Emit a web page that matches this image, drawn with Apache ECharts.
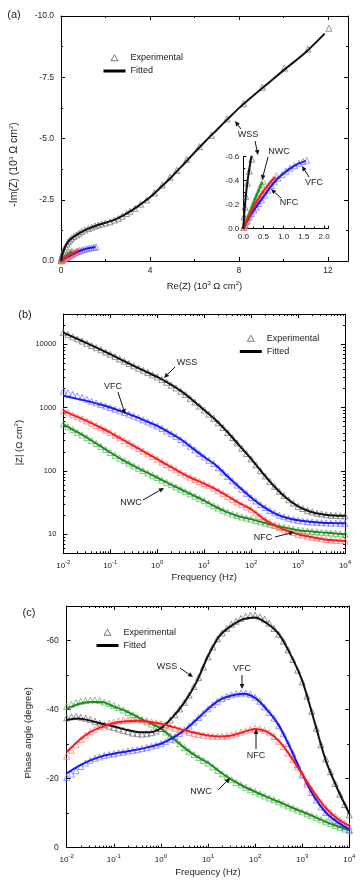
<!DOCTYPE html>
<html>
<head>
<meta charset="utf-8">
<script src="https://cdn.jsdelivr.net/npm/echarts@6.0.0/dist/echarts.min.js"></script>
<style>html,body{margin:0;padding:0;background:#fff}#c{width:361px;height:880px}</style>
</head>
<body>
<div id="c"></div>
<script>
// ---------------- DATA ----------------
// (a) Nyquist: Re(Z) and Im(Z) in 10^3 ohm cm2
const wssReExp = [12.04,11.1,10.04,9.05,8.21,7.46,6.76,6.22,5.65,5.2,4.9,4.55,4.2,3.85,3.58,3.33,3.1,2.95,2.75,2.58,2.4,2.2,2.0,1.83,1.68,1.53,1.38,1.23,1.08,0.93,0.8,0.7,0.58,0.48,0.4,0.33,0.27,0.21,0.15,0.1,0.06,0.04,0.02];
const wssImExp = [-9.5,-8.65,-7.87,-7.09,-6.42,-5.8,-5.13,-4.67,-4.15,-3.7,-3.42,-3.1,-2.78,-2.49,-2.32,-2.15,-2.03,-1.94,-1.83,-1.74,-1.67,-1.6,-1.55,-1.51,-1.47,-1.43,-1.38,-1.33,-1.27,-1.2,-1.13,-1.06,-1.0,-0.93,-0.86,-0.79,-0.69,-0.58,-0.48,-0.38,-0.27,-0.18,-0.1];
const wssReFit = [0,0.03,0.08,0.15,0.25,0.4,0.6,0.85,1.2,1.6,2.0,2.5,3.0,3.5,4.0,4.5,5.0,5.5,6.0,6.5,7.0,7.5,8.0,9.0,10.0,11.0,11.85];
const wssImFit = [0,-0.15,-0.33,-0.5,-0.68,-0.86,-1.01,-1.15,-1.31,-1.45,-1.56,-1.72,-1.96,-2.26,-2.6,-3.02,-3.46,-3.94,-4.43,-4.9,-5.35,-5.8,-6.24,-7.02,-7.78,-8.52,-9.28];
const vfcReExp = [0.02,0.05,0.1,0.15,0.2,0.26,0.32,0.38,0.45,0.53,0.61,0.69,0.77,0.86,0.96,1.06,1.16,1.27,1.38,1.48,1.57];
const vfcImExp = [-0.02,-0.04,-0.07,-0.1,-0.125,-0.155,-0.18,-0.21,-0.24,-0.28,-0.32,-0.36,-0.39,-0.42,-0.45,-0.48,-0.505,-0.525,-0.545,-0.56,-0.57];
const vfcReFit = [0,0.1,0.2,0.36,0.53,0.69,0.86,1.11,1.35,1.55];
const vfcImFit = [0,-0.065,-0.125,-0.2,-0.28,-0.355,-0.42,-0.49,-0.54,-0.565];
const nfcReExp = [0.01,0.04,0.08,0.12,0.16,0.2,0.24,0.29,0.34,0.4,0.46,0.53,0.6,0.67,0.74,0.82];
const nfcImExp = [-0.01,-0.03,-0.06,-0.09,-0.12,-0.15,-0.17,-0.2,-0.23,-0.26,-0.29,-0.325,-0.355,-0.385,-0.41,-0.44];
const nfcReFit = [0,0.12,0.24,0.36,0.53,0.69,0.8];
const nfcImFit = [0,-0.09,-0.17,-0.24,-0.325,-0.395,-0.43];
const nwcReExp = [0.01,0.03,0.07,0.11,0.16,0.2,0.24,0.28,0.32,0.37,0.41,0.45,0.49];
const nwcImExp = [-0.01,-0.03,-0.06,-0.095,-0.13,-0.165,-0.2,-0.235,-0.27,-0.305,-0.34,-0.37,-0.395];
const nwcReFit = [0,0.07,0.16,0.24,0.32,0.41,0.48];
const nwcImFit = [0,-0.06,-0.13,-0.2,-0.27,-0.34,-0.39];

// (b),(c) Bode: frequencies (Hz) of measured points and of fitted-curve nodes
const freqExp = [0.01,0.01259,0.01585,0.01995,0.02512,0.03162,0.03981,0.05012,0.0631,0.07943,0.1,0.1259,0.1585,0.1995,0.2512,0.3162,0.3981,0.5012,0.631,0.7943,1,1.259,1.585,1.995,2.512,3.162,3.981,5.012,6.31,7.943,10,12.59,15.85,19.95,25.12,31.62,39.81,50.12,63.1,79.43,100,125.9,158.5,199.5,251.2,316.2,398.1,501.2,631,794.3,1000,1259,1585,1995,2512,3162,3981,5012,6310,7943,10000];
const freqFit = [0.01,0.01778,0.03162,0.05623,0.1,0.1778,0.3162,0.5623,1,1.778,3.162,5.623,10,17.78,31.62,56.23,100,177.8,316.2,562.3,1000,1778,3162,5623,10000];

// (b) |Z| (ohm cm2)
const wssModExp = [15280,14140,13090,12120,11220,10360,9570,8840,8170,7530,6950,6380,5860,5390,4950,4560,4200,3870,3570,3300,3050,2770,2510,2260,2040,1810,1610,1400,1220,1055,912,787,679,574,485,404,336,277,228,188,155,125,101,83,68.2,57,47.6,40.8,35.0,31.0,27.5,25.5,23.8,22.6,21.5,20.9,20.3,20.0,19.8,19.6,19.5];
const wssModFit = [15280,12590,10380,8510,6950,5620,4550,3720,3050,2400,1830,1320,912,631,407,251,155,91.2,56.2,37.2,27.5,22.9,20.7,19.8,19.5];
const vfcModExp = [1820,1717,1620,1530,1445,1349,1260,1188,1120,1058,1000,942,887,834,785,734,687,639,594,552,513,468,427,387,350,312,278,245,215,189,166,147,131,112,95.9,81.6,69.5,59.6,51.1,44.1,38.0,33.4,29.4,26.4,23.7,21.8,20.0,18.9,17.9,17.2,16.6,16.2,15.8,15.6,15.4,15.25,15.1,15.05,15.0,14.95,14.9];
const vfcModFit = [1528,1396,1274,1135,1000,861,738,617,513,407,316,229,166,123,81.3,55,38,27.5,21.4,18.2,16.6,15.7,15.2,15.0,14.9];
const nfcModExp = [885,825,769,715,664,614,568,522,480,440,403,366,332,302,274,248,225,205,186,169,153,139,126,114,104,94.7,86.3,79.4,73.1,67.9,63.1,58.1,53.5,48.6,44.1,39.6,35.6,32.4,29.5,27.0,24.8,21.7,19.0,17.0,15.3,14.0,12.8,12.0,11.2,10.6,10.0,9.64,9.29,8.98,8.69,8.47,8.26,8.13,8.0,7.92,7.85];
const nfcModFit = [885,741,617,501,403,316,248,195,153,120,94.2,75.9,63.1,51.3,39.8,30.9,24.8,17.8,13.8,11.5,10.0,9.12,8.41,8.04,7.85];
const nwcModExp = [546,495,448,407,370,334,302,271,243,218,195,176,159,145,132,120,110,101,92.7,85.3,78.5,71.9,65.9,60.6,55.7,51.3,47.2,43.5,40.0,36.8,33.9,30.9,28.2,26.0,23.9,22.3,20.8,19.7,18.7,18.0,17.3,16.5,15.7,15.0,14.4,13.8,13.3,12.8,12.4,12.0,11.6,11.4,11.2,11.05,10.9,10.75,10.6,10.45,10.3,10.15,10.0];
const nwcModFit = [546,427,336,257,195,151,120,96.6,78.5,63.1,51.3,41.7,33.9,26.9,22.1,19.1,17.3,15.3,13.8,12.6,11.6,11.1,10.7,10.4,10.0];

// (c) phase angle (degree)
const wssPhExp = [-37.6,-37.9,-38.0,-37.8,-37.5,-37.1,-36.6,-36.1,-35.6,-35.2,-34.8,-34.4,-34.0,-33.6,-33.2,-33.0,-32.9,-33.0,-33.3,-33.8,-34.5,-35.6,-37.0,-38.5,-40.2,-42.1,-44.2,-46.7,-49.3,-52.3,-55.3,-58.1,-60.5,-62.2,-63.5,-64.7,-65.6,-66.4,-67.0,-67.3,-67.3,-66.9,-66.2,-65.0,-63.5,-61.8,-59.8,-57.3,-54.5,-51.4,-48.0,-43.9,-39.5,-34.6,-29.8,-25.7,-22.0,-18.6,-15.5,-12.5,-9.5];
const wssPhFit = [-37.0,-37.4,-36.8,-35.9,-35.1,-34.2,-33.5,-33.4,-34.6,-37.8,-42.1,-47.8,-55.5,-61.4,-64.3,-66.2,-66.7,-65.0,-61.9,-56.0,-48.4,-37.0,-25.3,-17.0,-9.9];
const vfcPhExp = [-20.3,-21.3,-22.3,-23.5,-24.5,-25.3,-25.9,-26.3,-26.7,-27.0,-27.2,-27.5,-27.7,-28.0,-28.2,-28.4,-28.7,-29.0,-29.4,-29.7,-30.1,-30.7,-31.4,-32.2,-33.1,-34.1,-35.2,-36.4,-37.7,-39.0,-40.2,-41.4,-42.4,-43.2,-43.8,-44.3,-44.6,-44.8,-44.8,-44.4,-43.6,-42.4,-40.8,-39.2,-37.5,-35.3,-33.0,-30.2,-27.3,-24.1,-21.0,-18.4,-16.0,-13.8,-11.8,-10.2,-8.9,-7.8,-6.9,-6.0,-5.2];
const vfcPhFit = [-21.5,-23.6,-25.3,-26.5,-27.2,-27.8,-28.4,-29.2,-30.1,-31.8,-34.0,-37.0,-40.2,-42.8,-44.1,-44.6,-43.4,-40.0,-35.5,-28.8,-21.3,-14.8,-10.2,-7.4,-5.3];
const nfcPhExp = [-26.5,-28.2,-29.8,-31.3,-32.6,-33.6,-34.4,-35.1,-35.6,-36.1,-36.4,-36.7,-36.9,-37.0,-37.1,-37.1,-37.0,-36.8,-36.5,-36.2,-35.9,-35.5,-35.0,-34.6,-34.2,-33.8,-33.4,-33.1,-32.8,-32.6,-32.4,-32.3,-32.2,-32.3,-32.4,-32.7,-33.0,-33.5,-33.9,-34.3,-34.6,-34.5,-34.0,-33.3,-32.2,-30.8,-29.2,-27.4,-25.5,-23.4,-21.3,-19.1,-17.0,-15.0,-13.2,-11.7,-10.3,-9.1,-8.0,-7.1,-6.2];
const nfcPhFit = [-27.7,-31.0,-33.5,-35.0,-36.1,-36.6,-36.8,-36.5,-35.9,-35.0,-34.0,-33.2,-32.5,-32.2,-32.5,-33.5,-34.4,-33.6,-31.0,-26.5,-21.3,-16.0,-11.5,-8.4,-6.3];
const nwcPhExp = [-40.9,-41.5,-42.0,-42.4,-42.6,-42.8,-42.8,-42.6,-42.2,-41.8,-41.2,-40.6,-39.9,-39.2,-38.5,-37.8,-37.1,-36.4,-35.8,-35.1,-34.5,-33.5,-32.4,-31.2,-30.1,-29.0,-27.9,-27.0,-26.1,-25.3,-24.5,-23.4,-22.4,-21.4,-20.5,-19.7,-18.9,-18.2,-17.5,-16.8,-16.2,-15.6,-15.0,-14.4,-13.9,-13.3,-12.7,-12.1,-11.5,-10.9,-10.4,-9.8,-9.3,-8.7,-8.1,-7.5,-7.0,-6.4,-5.9,-5.4,-5.0];
const nwcPhFit = [-40.2,-41.6,-42.2,-42.2,-40.9,-39.6,-37.9,-36.2,-34.5,-31.8,-28.9,-26.5,-24.6,-22.0,-19.7,-17.8,-16.2,-14.7,-13.3,-11.8,-10.4,-9.0,-7.5,-6.2,-5.1];

// ---------------- STYLE ----------------
const FONT = '"Liberation Sans", Arial, Helvetica, sans-serif';
const TXT = '#222';
const COL = {
  wss: {pt: '#6a6a6a', ln: '#111111'},
  vfc: {pt: '#7070ff', ln: '#1818ff'},
  nfc: {pt: '#ff7070', ln: '#ff1a1a'},
  nwc: {pt: '#55b055', ln: '#1e8e1e'}
};
const zip = (a, b) => a.map((v, i) => [v, b[i]]);

function expS(x, y, col, xi, yi) {
  return {type: 'scatter', name: 'Experimental', xAxisIndex: xi, yAxisIndex: yi, data: zip(x, y),
    symbol: 'triangle', symbolSize: 6, silent: true, z: 2,
    itemStyle: {color: 'rgba(255,255,255,0)', borderColor: col, borderWidth: 0.9}};
}
function fitS(x, y, col, xi, yi) {
  return {type: 'line', name: 'Fitted', xAxisIndex: xi, yAxisIndex: yi, data: zip(x, y),
    symbol: 'none', smooth: 0.3, silent: true, z: 3, lineStyle: {color: col, width: 2}};
}
function axis(extra) {
  return Object.assign({
    axisLine: {show: true, onZero: false, lineStyle: {color: '#000', width: 1}},
    axisTick: {show: true, inside: true, length: 4, lineStyle: {color: '#000', width: 1}},
    splitLine: {show: false}
  }, extra);
}
const mt = n => ({show: true, splitNumber: n, length: 2, lineStyle: {color: '#000', width: 1}});
const lab = o => Object.assign({fontSize: 8.5, fontFamily: FONT, color: TXT}, o);
const supRich = {sup: {fontSize: 6, fontFamily: FONT, color: TXT, padding: [0, 0, 6, 0]}};
const nameSt = (pad, size) => ({fontSize: size || 9.5, fontFamily: FONT, color: TXT, rich: supRich, padding: pad || 0});
const logLab = lab({fontSize: 8, margin: 6,
  formatter: v => '10{sup|' + Math.round(Math.log10(v)) + '}',
  rich: {sup: {fontSize: 6, fontFamily: FONT, color: TXT, padding: [0, 0, 7, 0]}}});
const isPow = v => Math.abs(Math.log10(v) - Math.round(Math.log10(v))) < 1e-6;

const xAxis = [
  axis({gridIndex: 0, type: 'value', min: 0, max: 12.9, interval: 4, minorTick: mt(2),
    axisLabel: lab({margin: 5, formatter: v => v > 12.5 ? '' : String(v)}),
    name: 'Re(Z) (10{sup|3} Ω cm{sup|2})', nameLocation: 'middle', nameGap: 19, nameTextStyle: nameSt()}),
  axis({gridIndex: 0, type: 'value', position: 'top', min: 0, max: 12.9, interval: 4, minorTick: mt(2), axisLabel: {show: false}}),
  axis({gridIndex: 1, type: 'value', min: 0, max: 2.1, interval: 0.5, minorTick: mt(2),
    axisTick: {show: true, inside: true, length: 3, lineStyle: {color: '#000'}},
    axisLabel: lab({fontSize: 8, margin: 4, formatter: v => v > 2.05 ? '' : v.toFixed(1)})}),
  axis({gridIndex: 2, type: 'log', min: 0.01, max: 10000, minorTick: mt(9), axisLabel: logLab,
    name: 'Frequency (Hz)', nameLocation: 'middle', nameGap: 19, nameTextStyle: nameSt()}),
  axis({gridIndex: 2, type: 'log', position: 'top', min: 0.01, max: 10000, minorTick: mt(9), axisLabel: {show: false}}),
  axis({gridIndex: 3, type: 'log', min: 0.01, max: 10000, minorTick: mt(9), axisLabel: logLab,
    name: 'Frequency (Hz)', nameLocation: 'middle', nameGap: 20, nameTextStyle: nameSt()}),
  axis({gridIndex: 3, type: 'log', position: 'top', min: 0.01, max: 10000, minorTick: mt(9), axisLabel: {show: false}})
];
const yAxis = [
  axis({gridIndex: 0, type: 'value', min: -10, max: 0, interval: 2.5, inverse: true, minorTick: mt(2),
    axisLabel: lab({margin: 7, formatter: v => v.toFixed(1)}),
    name: '-Im(Z) (10{sup|3} Ω cm{sup|2})', nameLocation: 'middle', nameGap: 41, nameTextStyle: nameSt([0, 52, 0, 0], 10.5)}),
  axis({gridIndex: 0, type: 'value', position: 'right', min: -10, max: 0, interval: 2.5, inverse: true, minorTick: mt(2), axisLabel: {show: false}}),
  axis({gridIndex: 1, type: 'value', min: -0.6, max: 0, interval: 0.2, inverse: true, minorTick: mt(2),
    axisTick: {show: true, inside: true, length: 3, lineStyle: {color: '#000'}},
    axisLabel: lab({fontSize: 8, margin: 4, formatter: v => v.toFixed(1)})}),
  axis({gridIndex: 2, type: 'log', min: 5, max: 30000, minorTick: mt(9),
    axisLabel: lab({fontSize: 7.5, margin: 7, formatter: v => isPow(v) ? String(Math.round(v)) : ''}),
    name: '|Z| (Ω cm{sup|2})', nameLocation: 'middle', nameGap: 33, nameTextStyle: nameSt([0, 18, 0, 0])}),
  axis({gridIndex: 2, type: 'log', position: 'right', min: 5, max: 30000, minorTick: mt(9), axisLabel: {show: false}}),
  axis({gridIndex: 3, type: 'value', min: -70, max: 0, splitNumber: 3, inverse: true, minorTick: mt(2),
    axisLabel: lab({margin: 8, formatter: v => v < -65 ? '' : String(v)}),
    name: 'Phase angle (degree)', nameLocation: 'middle', nameGap: 33, nameTextStyle: nameSt([0, 12, 0, 0])}),
  axis({gridIndex: 3, type: 'value', position: 'right', min: -70, max: 0, splitNumber: 3, inverse: true, minorTick: mt(2), axisLabel: {show: false}})
];

const series = [];
// (a) main + inset: grid 0 uses axes 0/0, inset uses 2/2
[[0, 0], [2, 2]].forEach(([xi, yi]) => {
  series.push(expS(vfcReExp, vfcImExp, COL.vfc.pt, xi, yi), fitS(vfcReFit, vfcImFit, COL.vfc.ln, xi, yi));
  series.push(expS(nwcReExp, nwcImExp, COL.nwc.pt, xi, yi), fitS(nwcReFit, nwcImFit, COL.nwc.ln, xi, yi));
  series.push(expS(nfcReExp, nfcImExp, COL.nfc.pt, xi, yi), fitS(nfcReFit, nfcImFit, COL.nfc.ln, xi, yi));
  series.push(expS(wssReExp, wssImExp, COL.wss.pt, xi, yi), fitS(wssReFit, wssImFit, COL.wss.ln, xi, yi));
});
// (b)
series.push(expS(freqExp, wssModExp, COL.wss.pt, 3, 3), fitS(freqFit, wssModFit, COL.wss.ln, 3, 3));
series.push(expS(freqExp, vfcModExp, COL.vfc.pt, 3, 3), fitS(freqFit, vfcModFit, COL.vfc.ln, 3, 3));
series.push(expS(freqExp, nwcModExp, COL.nwc.pt, 3, 3), fitS(freqFit, nwcModFit, COL.nwc.ln, 3, 3));
series.push(expS(freqExp, nfcModExp, COL.nfc.pt, 3, 3), fitS(freqFit, nfcModFit, COL.nfc.ln, 3, 3));
// (c)
series.push(expS(freqExp, nwcPhExp, COL.nwc.pt, 5, 5), fitS(freqFit, nwcPhFit, COL.nwc.ln, 5, 5));
series.push(expS(freqExp, wssPhExp, COL.wss.pt, 5, 5), fitS(freqFit, wssPhFit, COL.wss.ln, 5, 5));
series.push(expS(freqExp, vfcPhExp, COL.vfc.pt, 5, 5), fitS(freqFit, vfcPhFit, COL.vfc.ln, 5, 5));
series.push(expS(freqExp, nfcPhExp, COL.nfc.pt, 5, 5), fitS(freqFit, nfcPhFit, COL.nfc.ln, 5, 5));

// legend icons: triangle drawn in the middle of a full-width (22x7) path box
const TRI_ICON = 'path://M0 7L0 7M11 0.5L14.5 6.5L7.5 6.5Z M22 7L22 7';
const BAR_ICON = 'path://M0 0H22V3H0Z';
function legendAt(left, top) {
  return {left, top, orient: 'vertical', itemWidth: 22, itemHeight: 7, itemGap: 4, padding: 0,
    selectedMode: false, symbolKeepAspect: true,
    textStyle: {fontSize: 9, fontFamily: FONT, color: TXT},
    data: [
      {name: 'Experimental', icon: TRI_ICON, itemStyle: {color: 'rgba(255,255,255,0)', borderColor: '#555', borderWidth: 1}},
      {name: 'Fitted', icon: BAR_ICON, itemStyle: {color: '#000', borderWidth: 0}}
    ]};
}

// annotation helpers (layout only)
function tx(x, y, t, size) {
  return {type: 'text', x, y, z: 100, silent: true,
    style: {text: t, fontSize: size || 9, fontFamily: FONT, fill: TXT,
      align: 'center', verticalAlign: 'middle', textAlign: 'center', textVerticalAlign: 'middle'}};
}
function arrow(x1, y1, x2, y2) {
  const a = Math.atan2(y2 - y1, x2 - x1), L = 5, W = 2.3;
  const bx = x2 - L * Math.cos(a), by = y2 - L * Math.sin(a);
  const px = -Math.sin(a) * W, py = Math.cos(a) * W;
  return [
    {type: 'line', z: 100, silent: true, shape: {x1, y1, x2: bx, y2: by}, style: {stroke: '#111', lineWidth: 1}},
    {type: 'polygon', z: 100, silent: true, shape: {points: [[x2, y2], [bx + px, by + py], [bx - px, by - py]]}, style: {fill: '#111'}}
  ];
}
const graphic = [
  tx(14, 15, '(a)', 11), tx(25, 315, '(b)', 11), tx(29, 613, '(c)', 11),
  tx(248, 135, 'WSS'), tx(279, 152, 'NWC'), tx(314, 183, 'VFC'), tx(289, 203, 'NFC'),
  ...arrow(241, 129, 235, 121), ...arrow(255, 141, 258, 155), ...arrow(268, 157, 262, 180),
  ...arrow(309, 177, 302, 166), ...arrow(281, 198, 271, 189),
  tx(187, 363, 'WSS'), tx(113, 387, 'VFC'), tx(131, 503, 'NWC'), tx(263, 538, 'NFC'),
  ...arrow(175, 367, 164, 378), ...arrow(118, 392, 125, 414), ...arrow(143, 500, 164, 488), ...arrow(275, 537, 294, 532),
  tx(167, 667, 'WSS'), tx(242, 669, 'VFC'), tx(256, 756, 'NFC'), tx(201, 792, 'NWC'),
  ...arrow(180, 668, 193, 677), ...arrow(242, 675, 242, 689), ...arrow(256, 749, 256, 729), ...arrow(218, 790, 230, 778)
];

const chart = echarts.init(document.getElementById('c'));
chart.setOption({
  animation: false,
  backgroundColor: '#fff',
  grid: [
    {left: 61, top: 16, width: 287, height: 245, outerBoundsMode: 'none'},
    {left: 243.3, top: 156.7, width: 84.8, height: 72, outerBoundsMode: 'none'},
    {left: 63.3, top: 314, width: 281.7, height: 239.3, outerBoundsMode: 'none'},
    {left: 66.7, top: 606, width: 282.6, height: 241.7, outerBoundsMode: 'none'}
  ],
  legend: [legendAt(103, 53.5), legendAt(239.3, 334), legendAt(96, 628)],
  xAxis, yAxis, series, graphic
});
</script>
</body>
</html>
